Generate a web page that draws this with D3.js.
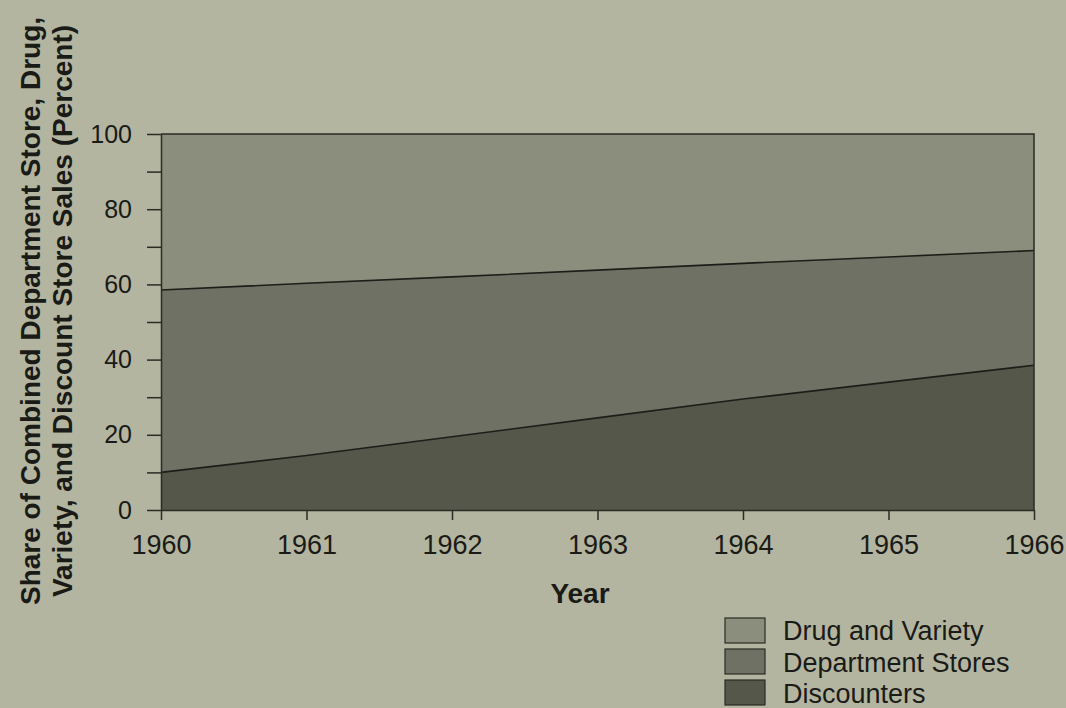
<!DOCTYPE html>
<html>
<head>
<meta charset="utf-8">
<script src="https://cdn.jsdelivr.net/npm/d3@7"></script>
<style>
  body { margin: 0; background: #b3b5a1; }
  svg { display: block; font-family: "Liberation Sans", Arial, sans-serif; }
  .axis text { fill: #1a1a16; }
  .axis path, .axis line { stroke: #2a2b25; stroke-width: 1.5; }
</style>
</head>
<body>
<svg width="1066" height="708"></svg>
<script>
const years = [1960, 1961, 1962, 1963, 1964, 1965, 1966];
const discounters = [10, 14.5, 19.5, 24.5, 29.5, 34, 38.5];
const departmentStores = [48.5, 45.8, 42.5, 39.3, 36.1, 33.3, 30.5];
const drugAndVariety = [41.5, 39.7, 38, 36.2, 34.4, 32.7, 31];
const seriesNames = ["Discounters", "Department Stores", "Drug and Variety"];
const yTicks = [0, 20, 40, 60, 80, 100];

const svg = d3.select("svg"),
    margin = {top: 134, left: 161},
    width = 1034 - 161,
    height = 510 - 134,
    g = svg.append("g").attr("transform", "translate(" + margin.left + "," + margin.top + ")");

const fills = {
  "Discounters": "#54574a",
  "Department Stores": "#6e7163",
  "Drug and Variety": "#8b8e7c"
};

const xScale = d3.scaleLinear().domain([1960, 1966]).range([0, width]),
    yScale = d3.scaleLinear().domain([0, 100]).range([height, 0]);

const rows = years.map(function(y, i) {
  return {
    year: y,
    "Discounters": discounters[i],
    "Department Stores": departmentStores[i],
    "Drug and Variety": drugAndVariety[i]
  };
});

const stacked = d3.stack().keys(seriesNames)(rows);

const area = d3.area()
    .x(function(d) { return xScale(d.data.year); })
    .y0(function(d) { return yScale(d[0]); })
    .y1(function(d) { return yScale(d[1]); });

const edge = d3.line()
    .x(function(d) { return xScale(d.data.year); })
    .y(function(d) { return yScale(d[1]); });

// Stacked areas
g.selectAll(".layer")
  .data(stacked)
  .enter().append("path")
    .attr("class", "layer")
    .attr("d", area)
    .style("fill", function(d) { return fills[d.key]; });

// Boundary lines between layers
g.selectAll(".edge")
  .data(stacked.slice(0, 2))
  .enter().append("path")
    .attr("class", "edge")
    .attr("d", edge)
    .style("fill", "none")
    .style("stroke", "#1d1e19")
    .style("stroke-width", 1.6);

// Frame: top and right
g.append("path")
    .attr("d", "M0," + yScale(100) + "H" + xScale(1966) + "V" + yScale(0))
    .style("fill", "none")
    .style("stroke", "#2a2b25")
    .style("stroke-width", 1.5);

// Axes
g.append("g")
    .attr("class", "axis")
    .attr("transform", "translate(0," + height + ")")
    .style("font-size", "27px")
    .call(d3.axisBottom(xScale).tickValues(years).tickFormat(d3.format("d")).tickSize(10).tickSizeOuter(0).tickPadding(15));

g.append("g")
    .attr("class", "axis")
    .style("font-size", "25px")
    .call(d3.axisLeft(yScale).tickValues(d3.range(0, 101, 10)).tickSize(14).tickSizeOuter(0).tickPadding(15)
      .tickFormat(function(d) { return yTicks.indexOf(d) >= 0 ? d : ""; }));

svg.selectAll(".axis").attr("font-size", null).attr("font-family", null);

// Axis titles
svg.append("text")
    .attr("x", 580)
    .attr("y", 603)
    .attr("text-anchor", "middle")
    .style("font-size", "28px")
    .style("font-weight", "bold")
    .style("fill", "#1a1a16")
    .text("Year");

const yTitle = svg.append("text")
    .attr("transform", "translate(0,311) rotate(-90)")
    .attr("text-anchor", "middle")
    .style("font-size", "28px")
    .style("font-weight", "bold")
    .style("fill", "#1a1a16");
yTitle.append("tspan").attr("x", 0).attr("y", 40).text("Share of Combined Department Store, Drug,");
yTitle.append("tspan").attr("x", 0).attr("y", 72).text("Variety, and Discount Store Sales (Percent)");

// Legend
const legend = svg.append("g").attr("transform", "translate(725,618)");
const legendItems = legend.selectAll(".item")
  .data(seriesNames.slice().reverse())
  .enter().append("g")
    .attr("class", "item");

legendItems.append("rect")
    .attr("y", function(d, i) { return i * 31; })
    .attr("width", 40)
    .attr("height", 25)
    .style("fill", function(d) { return fills[d]; })
    .style("stroke", "#2a2b25")
    .style("stroke-width", 1.2);

legendItems.append("text")
    .attr("x", 58)
    .attr("y", function(d, i) { return 22 + i * 31.5; })
    .style("font-size", "27px")
    .style("fill", "#1a1a16")
    .text(function(d) { return d; });
</script>
</body>
</html>
